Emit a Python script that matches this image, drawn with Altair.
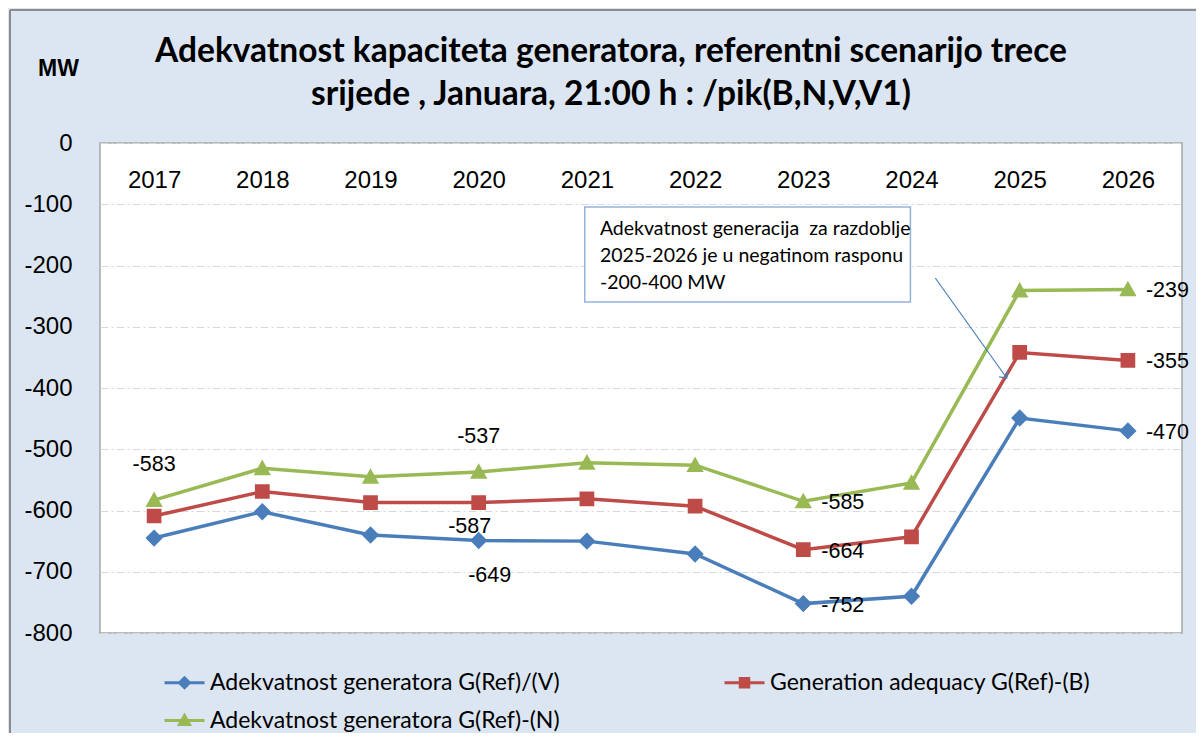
import altair as alt
import pandas as pd

# ---- data ----
years = [2017, 2018, 2019, 2020, 2021, 2022, 2023, 2024, 2025, 2026]
series_names = [
    "Adekvatnost generatora G(Ref)/(V)",
    "Adekvatnost generatora G(Ref)-(N)",
    "Generation adequacy G(Ref)-(B)",
]
v_vals = [-645, -602, -640, -649, -650, -671, -752, -740, -449, -470]
n_vals = [-583, -531, -545, -537, -522, -526, -585, -555, -241, -239]
b_vals = [-609, -569, -587, -587, -581, -593, -664, -643, -342, -355]

colors = ["#4A7EBB", "#98B954", "#BE4B48"]

# data labels: (series index, year)
labels_above = [(1, 2017), (1, 2020)]
labels_below_red = [(2, 2020)]
labels_below_blue = [(0, 2020)]
labels_right = [(1, 2023), (2, 2023), (0, 2023), (1, 2026), (2, 2026), (0, 2026)]

note_lines = [
    "Adekvatnost generacija\u00a0 za razdoblje",
    "2025-2026 je u negatinom rasponu",
    "-200-400 MW",
]
note_line_values = [-141, -184, -228]
note_box = {"x": 2020.98, "x2": 2023.99, "y": -104.5, "y2": -259.6}
arrow = {"x": 2024.22, "y": -220.4, "x2": 2024.88, "y2": -383.7}

title_lines = [
    "Adekvatnost kapaciteta generatora, referentni scenarijo trece",
    "srijede , Januara, 21:00 h : /pik(B,N,V,V1)",
]

NARROW = "Lato"
REG = "Liberation Sans"

# ---- tables ----
all_vals = [v_vals, n_vals, b_vals]
rows = []
for name, vals in zip(series_names, all_vals):
    for yr, v in zip(years, vals):
        rows.append({"year": yr, "value": v, "series": name})
df = pd.DataFrame(rows)


def label_df(items):
    return pd.DataFrame(
        [{"year": yr, "value": all_vals[s][years.index(yr)], "series": series_names[s]} for s, yr in items]
    )


color_scale = alt.Scale(domain=series_names, range=colors)
shape_scale = alt.Scale(
    domain=series_names,
    range=[
        "M-4,0H4M-1,0L0,-1L1,0L0,1Z",
        "M-4,0H4M0,-1L1,0.8H-1Z",
        "M-4,0H4M-0.85,-0.85H0.85V0.85H-0.85Z",
    ],
)

x_enc = alt.X(
    "year:Q",
    scale=alt.Scale(domain=[2016.5, 2026.5], nice=False, zero=False),
    axis=alt.Axis(
        orient="top", values=years, format="d", ticks=False, domain=False, grid=False,
        labelPadding=-37, labelBaseline="middle", labelFontSize=24, labelFont=REG,
        labelColor="black", title=None,
    ),
)
y_enc = alt.Y(
    "value:Q",
    scale=alt.Scale(domain=[-800, 0], nice=False, zero=False),
    axis=alt.Axis(
        values=list(range(-800, 1, 100)), ticks=False, domain=False, labelPadding=28,
        labelExpr="toString(datum.value)",
        labelFontSize=24, labelFont=REG, labelColor="black",
        grid=True, gridColor="#D9D9D9", gridDash=[8, 3, 2, 3], gridWidth=1,
        title="MW", titleAngle=0, titleX=-42, titleY=-75, titleFontSize=23, titleFont=REG,
        titleFontWeight="bold", titleAlign="center", titleBaseline="middle", titleColor="black",
    ),
)

base = alt.Chart(df)

lines = base.mark_line(strokeWidth=3.5).encode(
    x=x_enc, y=y_enc, color=alt.Color("series:N", scale=color_scale, title=None)
)

points = base.mark_point(filled=True, size=300, opacity=1).encode(
    x="year:Q",
    y="value:Q",
    color=alt.Color("series:N", scale=color_scale, title=None),
    shape=alt.Shape("series:N", scale=shape_scale, title=None),
)

text_style = dict(fontSize=21.5, font=REG, color="black")


def labels(items, **kw):
    return alt.Chart(label_df(items)).transform_calculate(
        lab="toString(datum.value)"
    ).mark_text(baseline="middle", **text_style, **kw).encode(
        x="year:Q", y="value:Q", text="lab:N")


lab_above = labels(labels_above, dy=-35, align="center")
lab_below_red = labels(labels_below_red, dy=24, dx=-9, align="center")
lab_below_blue = labels(labels_below_blue, dy=35, dx=11, align="center")
lab_right = labels(labels_right, dx=18, dy=2, align="left")

box = alt.Chart(pd.DataFrame([note_box])).mark_rect(fill="white", stroke="#95B3D7", strokeWidth=1.5).encode(
    x="x:Q", x2="x2", y="y:Q", y2="y2")
note = alt.Chart(pd.DataFrame({"line": note_lines, "value": note_line_values, "x": [2021.12] * 3})).mark_text(
    align="left", baseline="middle", fontSize=19.5, font=NARROW, color="black").encode(
    x="x:Q", y="value:Q", text="line:N")
arrow_line = alt.Chart(pd.DataFrame([arrow])).mark_rule(color="#4A7EBB", strokeWidth=1.2).encode(
    x="x:Q", y="y:Q", x2="x2", y2="y2")
arrow_head = alt.Chart(pd.DataFrame([arrow])).mark_point(
    shape="M-1,-1L0,0L1,-1", filled=False, color="#4A7EBB", strokeWidth=1.2, size=120, angle=324, opacity=1).encode(
    x="x2:Q", y="y2:Q")

frame_v = alt.Chart(pd.DataFrame({"a": [0]})).mark_rule(color="#8C8C8C", strokeWidth=2).encode(
    x=alt.value(-90), y=alt.value(-133), y2=alt.value(600))
frame_h = alt.Chart(pd.DataFrame({"a": [0]})).mark_rule(color="#8C8C8C", strokeWidth=2).encode(
    x=alt.value(-90), x2=alt.value(1096), y=alt.value(-133))

chart = alt.layer(
    frame_v, frame_h, lines, points, lab_above, lab_below_red, lab_below_blue, lab_right, box, note, arrow_line, arrow_head
).properties(
    width=1082,
    height=490,
    autosize=alt.AutoSizeParams(type="none"),
    padding={"left": 92, "top": 135, "right": 14, "bottom": 100},
    background="#DCE6F2",
    title=alt.Title(
        text=title_lines, fontSize=33.5, font=NARROW, fontWeight="bold", anchor="middle",
        dx=-30, dy=103, lineHeight=43, offset=0, color="black",
    ),
).configure_view(
    fill="white", stroke="#A6A6A6", strokeWidth=1.5
).configure_legend(
    orient="none", legendX=53, legendY=528, columns=2, columnPadding=153, rowPadding=14,
    labelFontSize=23, labelFont=NARROW, labelColor="black", labelLimit=0,
    symbolSize=100, symbolStrokeWidth=3, labelOffset=14, symbolOffset=20,
)

chart.save("out.html", embed_options={"renderer": "svg", "actions": False})
